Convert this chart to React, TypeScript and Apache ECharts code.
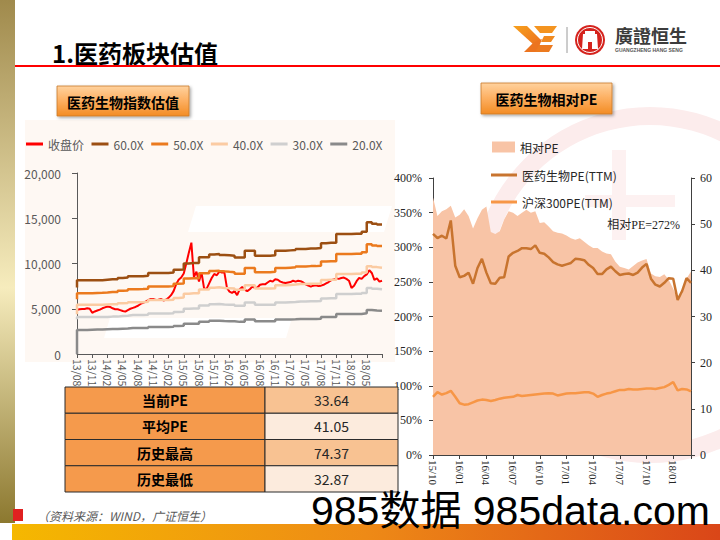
import React, { useEffect, useRef } from "react";
import * as echarts from "echarts";

// ---------- data ----------
// left chart: month index from 13/08, tick every 3 months
const leftTickLabels = ["13/08","13/11","14/02","14/05","14/08","14/11","15/02","15/05","15/08","15/11","16/02","16/05","16/08","16/11","17/02","17/05","17/08","17/11","18/02","18/05"];
// closing price, every half month from 13/08
const closePrice = [4900,4950,4970,4980,5050,5000,4550,4700,4800,4900,5050,5150,5250,5200,5050,4950,4950,4850,4750,4680,4850,5000,5100,5200,5330,5530,5650,5800,5950,6080,6080,5980,6000,6080,5920,6000,6200,6500,6950,7700,8200,8450,8900,10000,11200,12300,8500,9100,8000,9000,7250,7200,7800,8400,8850,8700,9100,9000,9000,7300,6900,6750,6950,6500,7150,7400,7100,6950,7150,7450,7300,7350,7650,7700,7700,7900,8100,8000,8250,8200,8000,7900,7850,7900,7950,8100,8000,8100,8050,7900,7700,7550,7450,7550,7600,7500,7550,7650,7800,7950,8150,8250,8350,8300,8400,8450,8300,8100,7300,7550,8050,8400,8300,8600,8800,9250,8950,8200,8350,8000,8100];
// PE bands, monthly from 13/08
const pe60 = [7350,8150,8150,8150,8150,8150,8200,8250,8250,8400,8450,8600,8600,8600,8650,8950,8950,8950,8950,9000,9300,9350,10000,10050,10050,10700,10700,11000,11050,10950,10900,10850,10650,10650,11400,11400,10850,10850,10850,10900,11400,11400,11450,11500,11600,11600,11650,11650,11700,12250,12300,12300,13250,13250,13250,13300,13300,13500,14550,14400,14300];
const pe50 = [6050,6720,6720,6720,6740,6760,6800,6850,6850,6980,7020,7150,7150,7170,7210,7460,7460,7460,7460,7500,7750,7790,8330,8380,8380,8920,8920,9170,9210,9130,9080,9040,8880,8880,9500,9500,9040,9040,9040,9080,9500,9500,9540,9580,9670,9670,9710,9710,9750,10210,10250,10250,11040,11040,11040,11080,11080,11250,12130,12000,11920];
const pe40 = [4400,5430,5430,5430,5430,5430,5470,5500,5500,5600,5630,5730,5730,5730,5770,5970,5970,5970,5970,6000,6200,6230,6670,6700,6700,7130,7130,7330,7370,7300,7270,7230,7100,7100,7600,7600,7230,7230,7230,7270,7600,7600,7630,7670,7730,7730,7770,7770,7800,8170,8200,8200,8830,8830,8830,8870,8870,9000,9700,9600,9530];
const pe30 = [3850,4080,4080,4080,4080,4080,4100,4130,4130,4200,4230,4300,4300,4300,4330,4480,4480,4480,4480,4500,4650,4680,5000,5030,5030,5350,5350,5500,5530,5480,5450,5430,5330,5330,5700,5700,5430,5430,5430,5450,5700,5700,5730,5750,5800,5800,5830,5830,5850,6130,6150,6150,6630,6630,6630,6650,6650,6750,7280,7200,7150];
const pe20 = [0,2650,2650,2680,2700,2700,2730,2750,2750,2800,2820,2870,2870,2870,2880,2980,2980,2980,2980,3000,3100,3120,3330,3350,3350,3570,3570,3670,3680,3650,3630,3620,3550,3550,3800,3800,3620,3620,3620,3630,3800,3800,3820,3830,3870,3870,3880,3880,3900,4080,4100,4100,4420,4420,4420,4430,4430,4500,4850,4800,4770];

// right chart: half-month steps from 15/10
const rightTickLabels = ["15/10","16/01","16/04","16/07","16/10","17/01","17/04","17/07","17/10","18/01"];
const relPE = [372,345,352,355,360,343,347,355,345,327,342,354,359,322,319,323,340,352,350,345,350,354,350,352,335,336,330,323,321,320,317,313,311,313,308,303,299,299,294,291,290,279,272,270,268,273,278,281,283,262,258,257,261,253,240,225,232,255,265];
const pharmaPE = [47.9,47.0,47.5,46.9,50.8,41.0,38.5,38.8,39.5,37.1,40.5,42.5,39.5,37.2,37.1,38.4,38.5,43.0,43.8,44.2,44.8,44.8,44.6,45.4,43.8,43.6,42.8,41.8,41.3,41.0,41.3,41.6,42.5,42.4,42.2,41.2,40.5,39.2,39.2,40.2,40.8,39.8,39.0,39.2,39.3,39.0,39.5,40.6,41.4,38.2,36.9,36.5,37.3,38.3,38.2,33.6,35.5,38.3,37.3];
const hs300PE = [12.6,13.6,13.1,13.4,13.9,12.6,11.2,10.9,11.0,11.4,11.8,12.0,11.9,11.7,11.9,12.2,12.4,12.5,12.6,13.0,12.8,12.9,13.0,13.1,13.2,13.3,13.4,13.3,12.9,13.1,13.3,13.4,13.4,13.5,13.6,13.6,13.3,12.6,13.0,13.3,13.5,13.8,14.1,14.1,14.3,14.2,14.2,14.3,14.4,14.4,14.3,14.5,14.7,15.2,15.8,14.0,14.3,14.2,13.8];

const tableLabels = ["当前PE", "平均PE", "历史最高", "历史最低"];
const tableValues = ["33.64", "41.05", "74.37", "32.87"];

// ---------- styles / layout ----------
const CJK = '"Noto Sans CJK SC", "Liberation Sans", sans-serif';
const SERIF = '"Liberation Serif", "Noto Sans CJK SC", serif';
const AXIS_GRAY = "#595959";
const LEFT_GRID = { left: 77, top: 173, width: 305, height: 181 };
const RIGHT_GRID = { left: 433, top: 178, width: 258, height: 277 };

function txt(x: number, y: number, text: string, font: string, fill: string, align = "left", z = 60) {
  return {
    type: "text",
    z,
    style: { x, y, text, font, fill, align, textAlign: align, verticalAlign: "middle", textVerticalAlign: "middle" },
  };
}

export default function App() {
  const ref = useRef<HTMLDivElement>(null);

  useEffect(() => {
    const chart = echarts.init(ref.current!, null, { renderer: "svg" });
    const LG = echarts.graphic.LinearGradient;

    const stepSeries = (name: string, arr: number[], color: string) => ({
      name,
      type: "line",
      xAxisIndex: 0,
      yAxisIndex: 0,
      step: "start",
      symbol: "none",
      data: arr.map((v, i) => [i, v]),
      lineStyle: { width: 2.5, color },
      itemStyle: { color },
    });

    const btnFill = () =>
      new LG(0, 0, 0, 1, [
        { offset: 0, color: "#ffd29e" },
        { offset: 0.45, color: "#fdb266" },
        { offset: 1, color: "#f38c24" },
      ]);

    const graphics: any[] = [
      // faint background watermark (left)
      { type: "polygon", z: -5, shape: { points: [[25, 120], [395, 120], [395, 362], [25, 362]] }, style: { fill: "#fef8f3" } },
      { type: "polygon", z: -4, shape: { points: [[196, 206], [392, 206], [384, 232], [188, 232]] }, style: { fill: "#ffffff" } },
      { type: "polygon", z: -4, shape: { points: [[110, 318], [292, 318], [286, 338], [104, 338]] }, style: { fill: "#ffffff" } },
      // faint watermark ring (right)
      { type: "ring", z: -5, shape: { cx: 650, cy: 285, r: 178, r0: 160 }, style: { fill: "#fcecec" } },
      { type: "rect", z: -5, shape: { x: 612, y: 150, width: 14, height: 90 }, style: { fill: "#fdf1f1" } },
      { type: "rect", z: -5, shape: { x: 585, y: 195, width: 90, height: 12 }, style: { fill: "#fdf1f1" } },
      // left decorative strip
      {
        type: "rect", z: 1, shape: { x: 0, y: 0, width: 15, height: 523 },
        style: { fill: new LG(0, 0, 0, 1, [
          { offset: 0, color: "#a08a4c" },
          { offset: 0.55, color: "#f6ecbd" },
          { offset: 1, color: "#8c782f" },
        ]) },
      },
      // bottom bar
      {
        type: "rect", z: 1, shape: { x: 12, y: 524, width: 708, height: 16 },
        style: { fill: new LG(0, 0, 1, 0, [
          { offset: 0, color: "#f5b800" },
          { offset: 0.5, color: "#ee8a16" },
          { offset: 1, color: "#da4618" },
        ]) },
      },
      // title + red rule
      txt(52, 52, "1.医药板块估值", `bold 24px ${CJK}`, "#000000"),
      { type: "line", z: 60, shape: { x1: 15, y1: 66, x2: 720, y2: 66 }, style: { stroke: "#ff0000", lineWidth: 2 } },
      // logo: YE mark
      { type: "polygon", z: 60, shape: { points: [[513, 26], [527, 26], [541, 40], [534, 45]] }, style: { fill: new LG(0, 0, 1, 1, [{ offset: 0, color: "#f7a11d" }, { offset: 1, color: "#ec6f1f" }]) } },
      { type: "polygon", z: 60, shape: { points: [[533, 43], [542, 39], [537, 52], [524, 52]] }, style: { fill: "#ec741f" } },
      { type: "polygon", z: 60, shape: { points: [[534, 26], [557, 26], [552, 33], [540, 33]] }, style: { fill: "#f49420" } },
      { type: "polygon", z: 60, shape: { points: [[544, 36], [555, 36], [551, 42], [541, 42]] }, style: { fill: "#f08a20" } },
      { type: "polygon", z: 60, shape: { points: [[539, 45], [553, 45], [549, 52], [535, 52]] }, style: { fill: "#ec7a1f" } },
      { type: "line", z: 60, shape: { x1: 567, y1: 27, x2: 567, y2: 53 }, style: { stroke: "#9a9a9a", lineWidth: 1 } },
      // logo: red circle
      { type: "circle", z: 60, shape: { cx: 590, cy: 40, r: 15 }, style: { fill: "#d5231d" } },
      { type: "circle", z: 61, shape: { cx: 590, cy: 40, r: 12.5 }, style: { fill: "none", stroke: "#ffffff", lineWidth: 1 } },
      { type: "polygon", z: 61, shape: { points: [[585, 31], [595, 31], [595, 34], [597, 34], [598, 49], [582, 49], [583, 34], [585, 34]] }, style: { fill: "#ffffff" } },
      { type: "rect", z: 62, shape: { x: 588, y: 42, width: 4, height: 7 }, style: { fill: "#d5231d" } },
      txt(615, 35, "廣證恒生", `bold 18px "Noto Sans CJK TC", "Noto Sans CJK SC", sans-serif`, "#3c3c3c"),
      txt(615, 50, "GUANGZHENG HANG SENG", `bold 5px "Liberation Sans", sans-serif`, "#555555"),
      // section buttons
      { type: "rect", z: 60, shape: { x: 57, y: 86, width: 132, height: 30 }, style: { fill: btnFill(), stroke: "#c8782c", lineWidth: 0.8, shadowBlur: 3, shadowColor: "rgba(0,0,0,0.35)", shadowOffsetX: 1.5, shadowOffsetY: 1.5 } },
      txt(123, 102, "医药生物指数估值", `bold 14px ${CJK}`, "#000000", "center", 61),
      { type: "rect", z: 60, shape: { x: 481, y: 83, width: 131, height: 31 }, style: { fill: btnFill(), stroke: "#c8782c", lineWidth: 0.8, shadowBlur: 3, shadowColor: "rgba(0,0,0,0.35)", shadowOffsetX: 1.5, shadowOffsetY: 1.5 } },
      txt(546.5, 99, "医药生物相对PE", `bold 14px ${CJK}`, "#000000", "center", 61),
      // annotation on right chart
      txt(680, 225, "相对PE=272%", `12px ${SERIF}`, "#262626", "right", 60),
      // zero label of left value axis (at the grid's bottom-left corner)
      txt(LEFT_GRID.left - 16, LEFT_GRID.top + LEFT_GRID.height, "0", `12px ${CJK}`, AXIS_GRAY, "right", 100),
      // footer
      { type: "rect", z: 60, shape: { x: 13, y: 509, width: 10, height: 12 }, style: { fill: "#e02020" } },
      txt(37, 515, "（资料来源：WIND，广证恒生）", `italic 12px ${CJK}`, "#595959"),
      // site watermark
      txt(311, 511, "985数据 985data.com", `41px "Liberation Sans", "Noto Sans CJK SC", sans-serif`, "#000000", "left", 70),
    ];

    // table
    const rowH = 26.25;
    tableLabels.forEach((lab, i) => {
      const y = 387 + i * rowH;
      graphics.push({ type: "rect", z: 60, shape: { x: 65, y, width: 200, height: rowH }, style: { fill: "#f59a4c", stroke: "#2b2b2b", lineWidth: 1 } });
      graphics.push({ type: "rect", z: 60, shape: { x: 265, y, width: 133, height: rowH }, style: { fill: i % 2 === 0 ? "#f8c292" : "#fcebdd", stroke: "#2b2b2b", lineWidth: 1 } });
      graphics.push(txt(165, y + rowH / 2, lab, `bold 14px ${CJK}`, "#000000", "center", 61));
      graphics.push(txt(331.5, y + rowH / 2, tableValues[i], `14px ${CJK}`, "#262626", "center", 61));
    });

    const option: any = {
      animation: false,
      backgroundColor: "#ffffff",
      grid: [LEFT_GRID, RIGHT_GRID],
      legend: [
        {
          data: ["收盘价", "60.0X", "50.0X", "40.0X", "30.0X", "20.0X"],
          left: 26, top: 138, padding: 0, icon: "rect", itemWidth: 17, itemHeight: 3, itemGap: 7.5,
          textStyle: { fontSize: 12, color: AXIS_GRAY, fontFamily: CJK },
        },
        {
          data: [{ name: "相对PE", icon: "rect" }],
          left: 492, top: 141, padding: 0, itemWidth: 23, itemHeight: 11,
          textStyle: { fontSize: 12, color: "#262626", fontFamily: CJK },
        },
        {
          data: ["医药生物PE(TTM)", "沪深300PE(TTM)"],
          orient: "vertical", left: 491, top: 168, padding: 0, icon: "rect", itemWidth: 26, itemHeight: 3, itemGap: 13,
          textStyle: { fontSize: 12, color: "#262626", fontFamily: CJK, lineHeight: 14 },
        },
      ],
      xAxis: [
        {
          type: "value", gridIndex: 0, min: 0, max: 60, interval: 3,
          axisLine: { show: true, lineStyle: { color: AXIS_GRAY } },
          axisTick: { show: true, length: 4, lineStyle: { color: AXIS_GRAY } },
          splitLine: { show: false },
          axisLabel: {
            rotate: -90, fontSize: 10.5, color: AXIS_GRAY, margin: 5, fontFamily: CJK, showMinLabel: true,
            formatter: (v: number) => {
              const i = Math.round(v / 3);
              return Math.abs(v - i * 3) < 1e-6 && i < leftTickLabels.length ? leftTickLabels[i] : "";
            },
          },
        },
        {
          type: "value", gridIndex: 1, min: 0, max: 29, interval: 3,
          axisLine: { show: true, lineStyle: { color: "#404040" } },
          axisTick: { show: true, length: 4, lineStyle: { color: "#404040" } },
          splitLine: { show: false },
          axisLabel: {
            rotate: -90, fontSize: 11, color: "#262626", margin: 5, fontFamily: SERIF, showMinLabel: true,
            formatter: (v: number) => {
              const i = Math.round(v / 3);
              return Math.abs(v - i * 3) < 1e-6 && i < rightTickLabels.length ? rightTickLabels[i] : "";
            },
          },
        },
      ],
      yAxis: [
        {
          type: "value", gridIndex: 0, min: 0, max: 20000, interval: 5000,
          axisLine: { show: true, lineStyle: { color: AXIS_GRAY } },
          axisTick: { show: true, length: 5, lineStyle: { color: AXIS_GRAY } },
          splitLine: { show: false },
          axisLabel: { showMinLabel: false, fontSize: 12, color: AXIS_GRAY, margin: 16, fontFamily: CJK, formatter: (v: number) => v.toLocaleString("en-US") },
        },
        {
          type: "value", gridIndex: 1, min: 0, max: 400, interval: 50,
          axisLine: { show: true, lineStyle: { color: "#404040" } },
          axisTick: { show: true, length: 4, lineStyle: { color: "#404040" } },
          splitLine: { show: false },
          axisLabel: { showMinLabel: true, fontSize: 12, color: "#262626", margin: 11, fontFamily: SERIF, formatter: "{value}%" },
        },
        {
          type: "value", gridIndex: 1, position: "right", min: 0, max: 60, interval: 10,
          axisLine: { show: true, lineStyle: { color: "#404040" } },
          axisTick: { show: true, length: 4, lineStyle: { color: "#404040" } },
          splitLine: { show: false },
          axisLabel: { showMinLabel: true, fontSize: 12, color: "#262626", margin: 9, fontFamily: SERIF },
        },
      ],
      series: [
        {
          name: "收盘价", type: "line", xAxisIndex: 0, yAxisIndex: 0, symbol: "none",
          data: closePrice.map((v, i) => [i * 0.5, v]),
          lineStyle: { width: 2, color: "#ff0000" }, itemStyle: { color: "#ff0000" },
        },
        stepSeries("60.0X", pe60, "#9c4f12"),
        stepSeries("50.0X", pe50, "#eb7a1e"),
        stepSeries("40.0X", pe40, "#fbcba2"),
        stepSeries("30.0X", pe30, "#cfcfcf"),
        stepSeries("20.0X", pe20, "#8a8a8a"),
        {
          name: "相对PE", type: "line", xAxisIndex: 1, yAxisIndex: 1, symbol: "none",
          data: relPE.map((v, i) => [i * 0.5, v]),
          lineStyle: { width: 0, color: "#f8c4a6" }, itemStyle: { color: "#f8c4a6" },
          areaStyle: { color: "#f8c4a6", opacity: 1 },
        },
        {
          name: "医药生物PE(TTM)", type: "line", xAxisIndex: 1, yAxisIndex: 2, symbol: "none",
          data: pharmaPE.map((v, i) => [i * 0.5, v]),
          lineStyle: { width: 2.5, color: "#c8742f" }, itemStyle: { color: "#c8742f" },
        },
        {
          name: "沪深300PE(TTM)", type: "line", xAxisIndex: 1, yAxisIndex: 2, symbol: "none",
          data: hs300PE.map((v, i) => [i * 0.5, v]),
          lineStyle: { width: 2.5, color: "#f79646" }, itemStyle: { color: "#f79646" },
        },
      ],
      graphic: graphics,
    };

    chart.setOption(option);
    return () => chart.dispose();
  }, []);

  return (
    <div
      ref={ref}
      style={{ position: "fixed", left: 0, top: 0, width: 720, height: 540, background: "#ffffff" }}
    />
  );
}
